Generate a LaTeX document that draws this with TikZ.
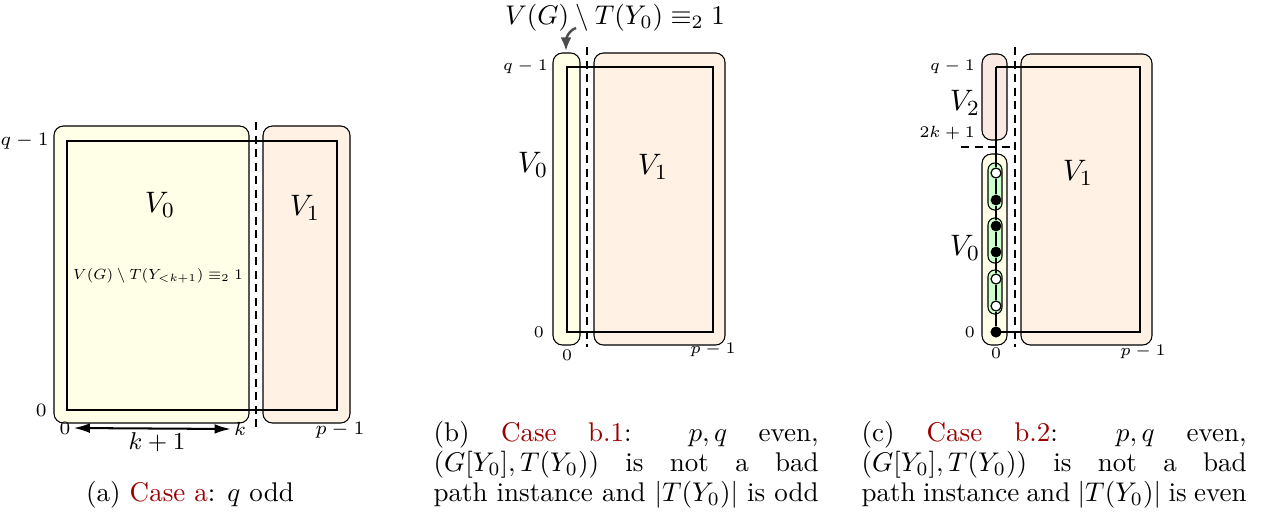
\documentclass[tikz,border=0pt]{standalone}
\usetikzlibrary{arrows.meta}
\definecolor{linkred}{rgb}{0.6,0,0}
\definecolor{vtwo}{rgb}{0.98,0.91,0.89}
\newcommand\spreadline[1]{\makebox[142.5pt][s]{#1}}
\begin{document}
\begin{tikzpicture}[x=0.37pt,y=-0.37pt,
 box/.style={draw=black,line width=0.4pt,rounded corners=3.5pt},
 yel/.style={box,fill=yellow!10},
 ora/.style={box,fill=orange!10},
 pnk/.style={box,fill=vtwo},
 grn/.style={box,fill=green!20,rounded corners=2.5pt},
 grid/.style={draw=black,line width=0.55pt},
 sep/.style={draw=black,line width=0.5pt,dash pattern=on 3pt off 2pt},
 lbl/.style={font=\fontsize{6.5}{8}\selectfont,inner sep=1pt},
 lbla/.style={font=\scriptsize,inner sep=1pt},
 big/.style={font=\fontsize{11}{13}\selectfont,inner sep=0pt},
 bdot/.style={circle,fill=black,inner sep=0pt,minimum size=4pt},
 wdot/.style={circle,draw=black,fill=white,line width=0.45pt,inner sep=0pt,minimum size=3.7pt},
 capl/.style={anchor=base west,inner sep=0pt},
]
\useasboundingbox (0,0) rectangle (1266,513);

% ---------------- panel (a)
\draw[yel] (54,126) rectangle (249,423);
\draw[ora] (263,126) rectangle (350,423);
\draw[sep] (256,122) -- (256,432);
\draw[grid] (67,141) rectangle (337,410);
\node[big] (a0) at (160,205) {$V_0$};
\node[big] (a1) at (305,208) {$V_1$};
\node[font=\scriptsize,inner sep=0pt] (aform) at (158,276) {\scalebox{0.78}{$V(G)\setminus T(Y_{<k+1})\equiv_2 1$}};
\node[lbla,anchor=east] (aq) at (52,141) {$q-1$};
\node[lbla,anchor=east] (ay0) at (50,410) {$0$};
\node[lbla] (ax0) at (65,428) {$0$};
\node[lbla] (axk) at (240,429) {$k$};
\node[lbla] (axp) at (340,430) {$p-1$};
\draw[{Latex[length=6pt,width=3.6pt]}-{Latex[length=6pt,width=3.6pt]},line width=0.75pt] (ax0.east) -- (axk.west);
\node[font=\small,inner sep=0pt] (akp) at (157,442) {$k+1$};
\node[anchor=base] (capa) at (190,501) {(a) \textcolor{linkred}{Case a}: $q$ odd};

% ---------------- panel (b)
\draw[yel] (553,53) rectangle (580,345);
\draw[ora] (594,53) rectangle (725,345);
\draw[sep] (587,47) -- (587,347);
\draw[grid] (567,67) rectangle (713,332);
\node[big] (b0) at (533,165) {$V_0$};
\node[big] (b1) at (653,167) {$V_1$};
\node[inner sep=0pt] (btop) at (615,18) {$V(G)\setminus T(Y_0)\equiv_2 1$};
\coordinate (btip) at (566,51);
\draw[-{Latex[length=5pt,width=4pt]},line width=0.9pt,black!70] (576,28) to[out=200,in=90] (btip);
\node[lbl,anchor=east] (bq) at (551,67) {$q-1$};
\node[lbl,anchor=east] (by0) at (547,332) {$0$};
\node[lbl] (bx0) at (567,355) {$0$};
\node[lbl] (bxp) at (713,350) {$p-1$};
\node[capl] (capb1) at (433,441) {\spreadline{(b) \textcolor{linkred}{Case b.1}: $p,q$ even,}};
\node[capl] (capb2) at (433,471) {\spreadline{$(G[Y_0],T(Y_0))$ is not a bad}};
\node[capl] (capb3) at (433,501) {\spreadline{path instance and $|T(Y_0)|$ is odd}};

% ---------------- panel (c)
\draw[pnk] (982,54) rectangle (1007,140);
\draw[yel] (982,154) rectangle (1007,345);
\draw[ora] (1021,54) rectangle (1152,345);
\draw[sep] (1015,47) -- (1015,347);
\draw[sep] (961,147) -- (1015,147);
\draw[grn] (988,163) rectangle (1002,210);
\draw[grn] (988,218) rectangle (1002,263);
\draw[grn] (988,270) rectangle (1002,314);
\coordinate (ctl) at (996,67);
\coordinate (ctr) at (1140,67);
\coordinate (cbr) at (1140,332);
\node[bdot] (c0) at (996,332) {};
\node[wdot] (c6) at (996,173) {};
\node[bdot] (c5) at (996,200) {};
\node[bdot] (c4) at (996,226) {};
\node[bdot] (c3) at (996,252) {};
\node[wdot] (c2) at (996,279) {};
\node[wdot] (c1) at (996,306) {};
\draw[grid] (ctl) -- (ctr) -- (cbr) -- (c0.center);
\draw[grid] (ctl) -- (c6) -- (c5) -- (c4) -- (c3) -- (c2) -- (c1) -- (c0);
\node[bdot] at (c0) {};
\node[big] (cv2) at (965,103) {$V_2$};
\node[big] (cv1) at (1078,173) {$V_1$};
\node[big] (cv0) at (965,248) {$V_0$};
\node[lbl,anchor=east] (cq) at (978,67) {$q-1$};
\node[lbl,anchor=east] (ck) at (978,133) {$2k+1$};
\node[lbl,anchor=east] (cy0) at (978,332) {$0$};
\node[lbl] (cx0) at (996,353) {$0$};
\node[lbl] (cxp) at (1143,352) {$p-1$};
\node[capl] (capc1) at (861,441) {\spreadline{(c) \textcolor{linkred}{Case b.2}: $p,q$ even,}};
\node[capl] (capc2) at (861,471) {\spreadline{$(G[Y_0],T(Y_0))$ is not a bad}};
\node[capl] (capc3) at (861,501) {\spreadline{path instance and $|T(Y_0)|$ is even}};
\end{tikzpicture}
\end{document}
